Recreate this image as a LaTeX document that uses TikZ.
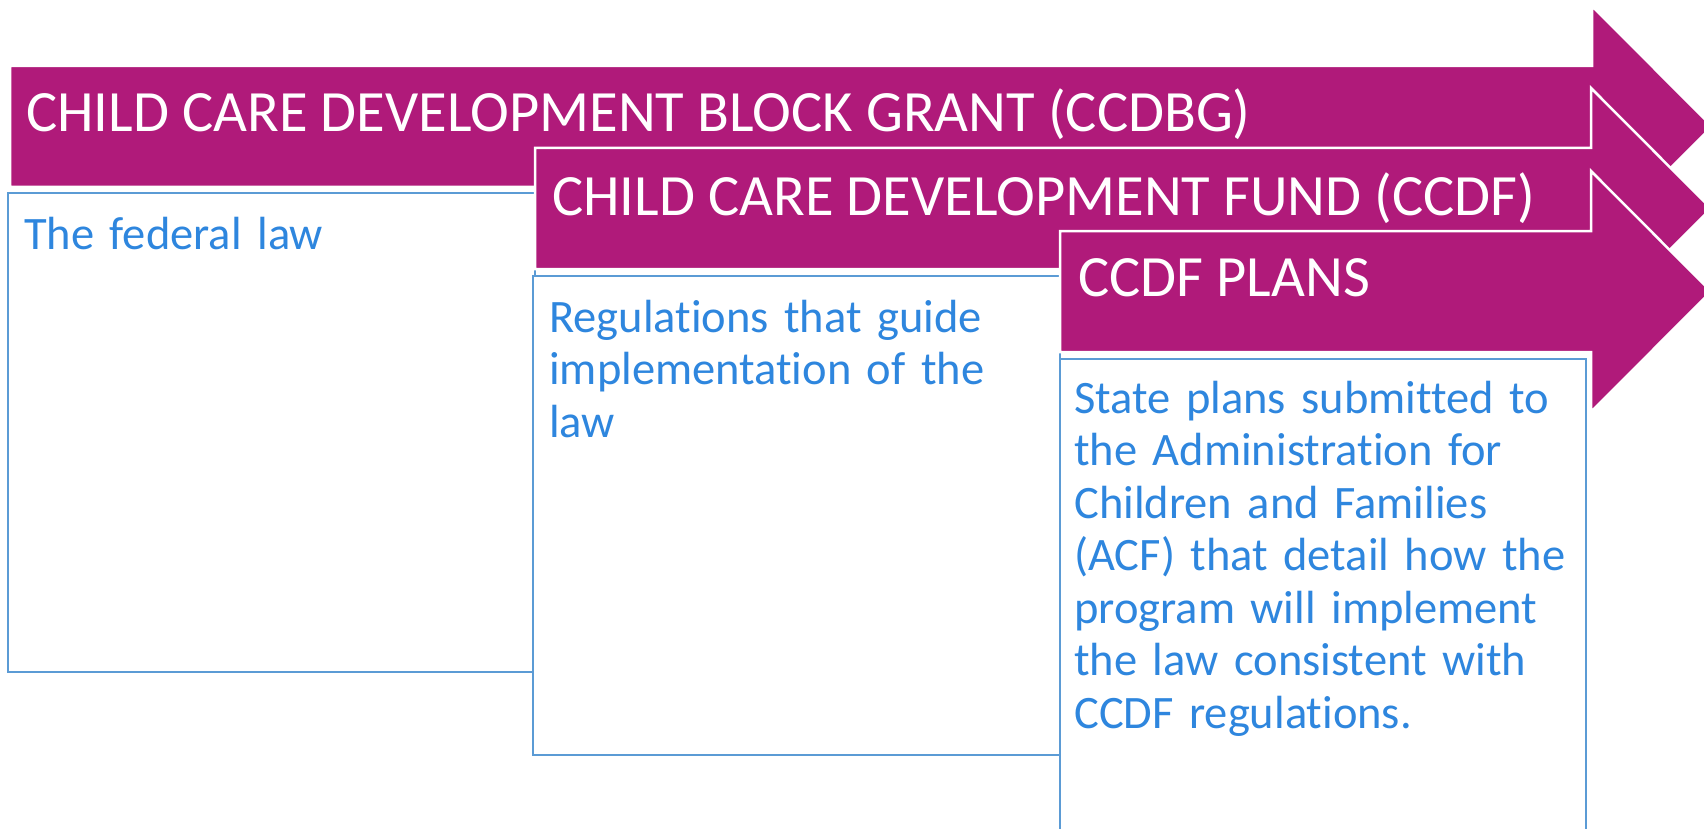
\documentclass[tikz,border=0pt]{standalone}
\usepackage{fontspec}
\setmainfont{Carlito}[Ligatures=NoCommon]
\usepackage{xcolor}
\usepackage{tikz}
\usetikzlibrary{calc}

\definecolor{grantmagenta}{HTML}{B01A7A}
\definecolor{panelline}{HTML}{5B9BD5}
\definecolor{panelblue}{HTML}{2E86DE}

\begin{document}
\begin{tikzpicture}[x=1pt,y=-1pt,
    band/.style={fill=grantmagenta,draw=white,line width=2.5pt,line join=miter},
    panel/.style={fill=white,draw=panelline,line width=2pt},
    title/.style={anchor=base west,inner sep=0pt,text=white,font=\fontsize{58.5}{68}\selectfont},
    body/.style={anchor=base west,inner sep=0pt,text=panelblue,text width=540pt,align=left,
      font=\fontsize{46.5}{52.5}\selectfont}]

    \useasboundingbox (0,0) rectangle (1704,829);

    % Top-left corners of the arrow shafts (approximate)
    \coordinate (G) at (10,66);     % CCDBG
    \coordinate (F) at (535,148);   % CCDF
    \coordinate (P) at (1060,231);  % CCDF plans

    % 1) The block grant arrow and its box
    \draw[band] (G) -- ++(1582,0) -- ++(0,-60) -- ++(120,120.5)
      -- ++(-120,120.5) -- ++(0,-60) -- ++(-1582,0) -- cycle;
    \draw[panel] (8,193) rectangle (535,672);

    % 2) The fund arrow and its box
    \draw[band] (F) -- ++(1056,0) -- ++(0,-60) -- ++(120,120.5)
      -- ++(-120,120.5) -- ++(0,-60) -- ++(-1056,0) -- cycle;
    \draw[panel] (533,276) rectangle (1060,755);

    % 3) The plans arrow and its box (runs off the bottom)
    \draw[band] (P) -- ++(531,0) -- ++(0,-60) -- ++(120,120.5)
      -- ++(-120,120.5) -- ++(0,-60) -- ++(-531,0) -- cycle;
    \draw[panel] (1060,359) rectangle (1586,845);

    % Arrow labels
    \node[title] (ccdbg) at (26,132) {CHILD CARE DEVELOPMENT BLOCK GRANT (CCDBG)};
    \node[title] (ccdf)  at (552,215) {CHILD CARE DEVELOPMENT FUND (CCDF)};
    \node[title] (plans) at (1078,296) {CCDF PLANS};

    % Box texts
    \node[body] (law) at (24,249) {The federal law};
    \node[body] (regs) at (549,332) {Regulations that guide\\implementation of the\\law};
    \node[body] (state) at (1074,413) {State plans submitted to\\the Administration for\\Children and Families\\(ACF) that detail how the\\program will implement\\the law consistent with\\CCDF regulations.};

\end{tikzpicture}
\end{document}
